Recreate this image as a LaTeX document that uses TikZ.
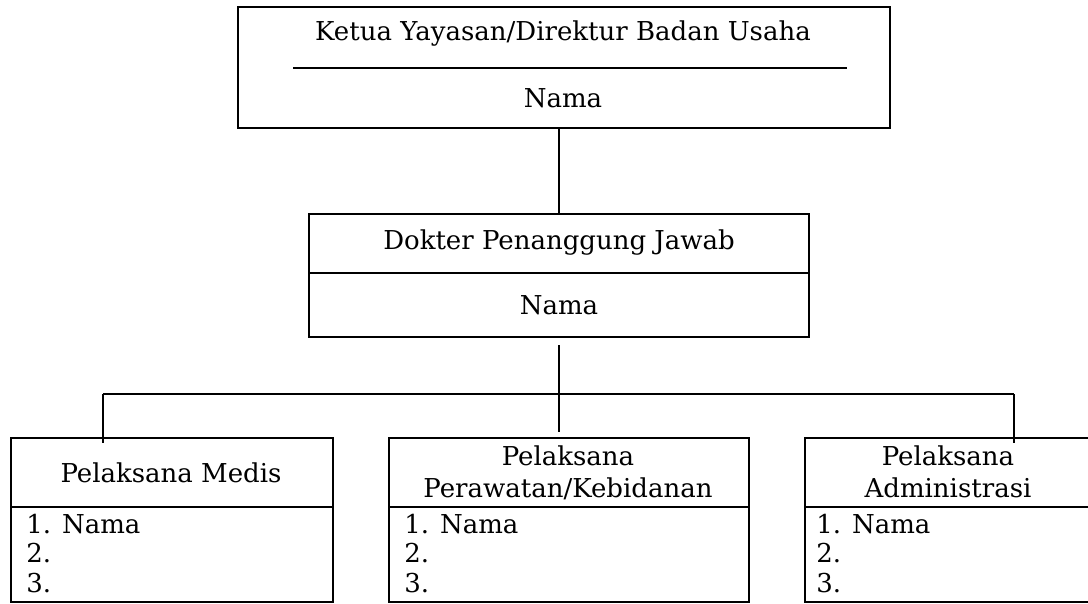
\documentclass[tikz,border=0pt]{standalone}
\usepackage{fontspec}
\setmainfont{DejaVu Serif}
\begin{document}
\begin{tikzpicture}[x=0.75pt,y=-0.75pt,
  box/.style={draw,line width=1.4pt},
  conn/.style={draw,line width=1.1pt},
  lbl/.style={font=\fontsize{19.5}{24}\selectfont,inner sep=0pt,align=center},
  lst/.style={font=\fontsize{19.5}{22}\selectfont,inner sep=0pt,align=left,anchor=north west}]
\useasboundingbox[fill=white] (0,0) rectangle (1088,603);
\clip (0,0) rectangle (1088,603);
% top box
\node[box,minimum width=652*0.75pt,minimum height=121*0.75pt,anchor=north west,inner sep=0pt] (top) at (237,6) {};
\node[lbl] (toptitle) at (563,34) {Ketua Yayasan/Direktur Badan Usaha};
\coordinate (ruleL) at (293,68);
\coordinate (ruleR) at (847,68);
\draw[line width=1.3pt] (ruleL) -- (ruleR);
\node[lbl] (topname) at (563,98) {Nama};
% middle box
\node[box,minimum width=500*0.75pt,minimum height=123*0.75pt,anchor=north west,inner sep=0pt] (mid) at (308,213) {};
\coordinate (midDL) at (308,273);
\coordinate (midDR) at (808,273);
\draw[box] (midDL) -- (midDR);
\node[lbl] (midtitle) at (559,243) {Dokter Penanggung Jawab};
\node[lbl] (midname) at (559,305) {Nama};
\draw[conn] (top.south -| midtitle) -- (mid.north -| midtitle);
% bottom boxes
\foreach \n/\l/\r in {a/10/332,b/388/748,c/804/1094}{
  \node[box,minimum width={(\r-\l)*0.75pt},minimum height=164*0.75pt,anchor=north west,inner sep=0pt] (\n) at (\l,437) {};
  \draw[box] (\l,507) -- (\r,507);
}
\node[lbl] (atitle) at (171,473) {Pelaksana Medis};
\node[lbl] (btitle) at (568,473) {Pelaksana\\Perawatan/Kebidanan};
\node[lbl] (ctitle) at (948,472) {Pelaksana\\Administrasi};
\node[lst] (alist) at (26,514) {1. Nama\\2.\\3.};
\node[lst] (blist) at (404,514) {1. Nama\\2.\\3.};
\node[lst] (clist) at (816,514) {1. Nama\\2.\\3.};
% connectors
\coordinate (s) at (559,345);
\coordinate (hub) at (559,394);
\coordinate (hl) at (103,394);
\coordinate (hr) at (1014,394);
\coordinate (se) at (559,432);
\coordinate (ae) at (103,443);
\coordinate (ce) at (1014,443);
\draw[conn] (s) -- (se);
\draw[conn] (hl) -- (hr);
\draw[conn] (hl) -- (ae);
\draw[conn] (hr) -- (ce);
\end{tikzpicture}
\end{document}
